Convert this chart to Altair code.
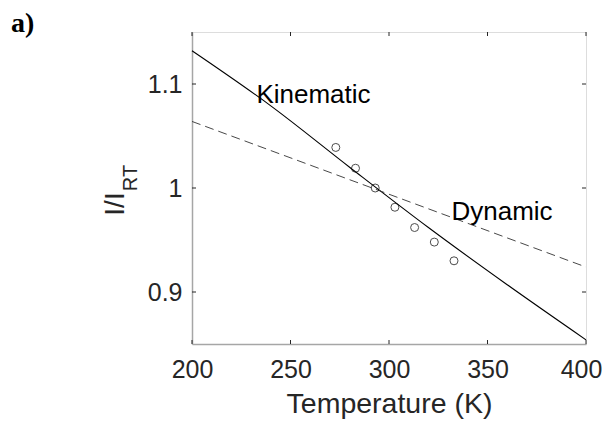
import altair as alt
import pandas as pd

# Data
kin_T = [200, 240, 280, 320, 360, 400]
kin_v = [1.132, 1.079, 1.020, 0.962, 0.907, 0.854]
dyn_T = [200, 400]
dyn_v = [1.064, 0.924]
pts_T = [273, 283, 293, 303, 313, 323, 333]
pts_v = [1.039, 1.019, 1.000, 0.9815, 0.962, 0.948, 0.930]
lab_text = ["Kinematic", "Dynamic"]
lab_T = [232.7, 331.7]
lab_v = [1.0818, 0.9694]
xticks = [200, 250, 300, 350, 400]
yticks = [0.9, 1.0, 1.1]

W, H = 394, 312
FONT = "Liberation Sans"
DARK = "#262626"

xs = alt.Scale(domain=[200, 400], nice=False, zero=False)
ys = alt.Scale(domain=[0.85, 1.15], nice=False, zero=False)

xaxis = alt.Axis(values=xticks, ticks=False, tickSize=0, grid=False, labelFlush=False,
                 labelOffset={"condition": {"test": "datum.value == 400", "value": -5}, "value": 0},
                 labelFontSize=25, labelFont=FONT, labelColor=DARK, labelPadding=13,
                 domainColor="#a6a6a6", domainWidth=1.5,
                 title="Temperature (K)", titleFont=FONT, titleFontSize=28.5,
                 titleFontWeight="normal", titleColor=DARK, titlePadding=7)
yaxis = alt.Axis(values=yticks, ticks=False, tickSize=0, grid=False, format="~g",
                 labelFlush=False,
                 labelFontSize=25, labelFont=FONT, labelColor=DARK, labelPadding=10,
                 domainColor="#a6a6a6", domainWidth=1.5, title=None)

kin = pd.DataFrame({"T": kin_T, "v": kin_v})
dyn = pd.DataFrame({"T": dyn_T, "v": dyn_v})
pts = pd.DataFrame({"T": pts_T, "v": pts_v})
labs = pd.DataFrame({"t": lab_text, "T": lab_T, "v": lab_v})
xt = pd.DataFrame({"T": xticks})
yt = pd.DataFrame({"v": yticks})

base_x = alt.X("T:Q", scale=xs, axis=xaxis)
base_y = alt.Y("v:Q", scale=ys, axis=yaxis)

kin_line = alt.Chart(kin).mark_line(color="black", strokeWidth=1.1, interpolate="monotone").encode(
    x=base_x, y=base_y)
dyn_line = alt.Chart(dyn).mark_line(color="#333333", strokeWidth=0.9, strokeDash=[9, 5]).encode(
    x=alt.X("T:Q", scale=xs), y=alt.Y("v:Q", scale=ys))
circles = alt.Chart(pts).mark_point(shape="circle", filled=False, color="black", size=64,
                                     strokeWidth=1).encode(
    x=alt.X("T:Q", scale=xs), y=alt.Y("v:Q", scale=ys))
labels = alt.Chart(labs).mark_text(align="left", baseline="alphabetic", fontSize=26,
                                   font=FONT, color="black").encode(
    x=alt.X("T:Q", scale=xs), y=alt.Y("v:Q", scale=ys), text="t:N")

tick_style = dict(color=DARK, strokeWidth=1)
xt_bot = alt.Chart(xt).mark_rule(**tick_style).encode(
    x=alt.X("T:Q", scale=xs), y=alt.value(H), y2=alt.value(H - 4))
xt_top = alt.Chart(xt).mark_rule(**tick_style).encode(
    x=alt.X("T:Q", scale=xs), y=alt.value(0), y2=alt.value(4))
yt_left = alt.Chart(yt).mark_rule(**tick_style).encode(
    y=alt.Y("v:Q", scale=ys), x=alt.value(0), x2=alt.value(4))
yt_right = alt.Chart(yt).mark_rule(**tick_style).encode(
    y=alt.Y("v:Q", scale=ys), x=alt.value(W), x2=alt.value(W - 4))

ytitle = alt.Chart(pd.DataFrame({"t": ["I/I"]})).mark_text(
    angle=270, align="center", baseline="alphabetic", fontSize=28, font=FONT, color=DARK
).encode(x=alt.value(-68), y=alt.value(172), text="t:N")
ysub = alt.Chart(pd.DataFrame({"t": ["RT"]})).mark_text(
    angle=270, align="center", baseline="alphabetic", fontSize=20, font=FONT, color=DARK
).encode(x=alt.value(-55), y=alt.value(146), text="t:N")
panel = alt.Chart(pd.DataFrame({"t": ["a)"]})).mark_text(
    align="left", baseline="alphabetic", fontSize=28, font="Liberation Serif",
    fontWeight="bold", color="black"
).encode(x=alt.value(-181), y=alt.value(0), text="t:N")

chart = alt.layer(
    kin_line, dyn_line, circles, labels,
    xt_bot, xt_top, yt_left, yt_right, ytitle, ysub, panel
).properties(
    width=W, height=H,
    autosize=alt.AutoSizeParams(type="none"),
    padding={"left": 184, "top": 24, "right": 16, "bottom": 78},
).configure_view(stroke=DARK, strokeWidth=1).configure(background="white")

chart.save("out.html", embed_options={"renderer": "svg", "actions": False})
